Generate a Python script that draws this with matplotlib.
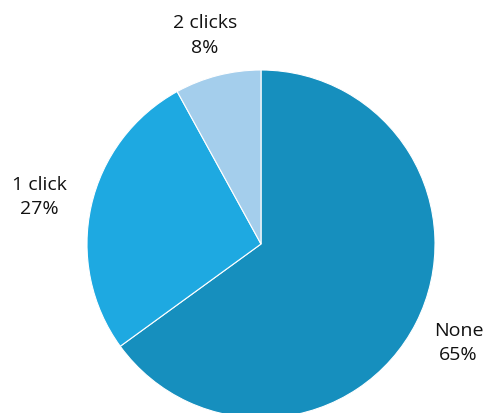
import matplotlib.pyplot as plt

labels = ["None", "1 click", "2 clicks"]
shares = [65, 27, 8]
colors = ["#168fbe", "#1ea9e1", "#a4ceec"]

# label anchor points (in pie radius units)
label_pos = [(1.135, -0.563), (-1.276, 0.276), (-0.322, 1.204)]

plt.rcParams["font.family"] = ["Open Sans", "DejaVu Sans"]

fig = plt.figure(figsize=(4.83, 4.14), dpi=100)
ax = fig.add_axes([87 / 483, -5 / 414, 348 / 483, 348 / 414])

ax.pie(shares, colors=colors, startangle=90, counterclock=False,
       wedgeprops={"edgecolor": "white", "linewidth": 0.8})

for lab, val, (x, y) in zip(labels, shares, label_pos):
    ax.text(x, y, f"{lab}\n{val}%", ha="center", va="center",
            fontsize=14, linespacing=1.45, color="#111111", clip_on=False)

ax.set_xlim(-1, 1)
ax.set_ylim(-1, 1)
ax.set_aspect("equal")
ax.axis("off")

fig.savefig("out.png", dpi=100)
